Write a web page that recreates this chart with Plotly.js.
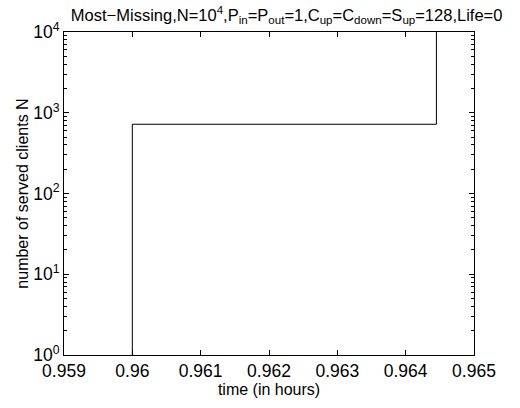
<!DOCTYPE html>
<html>
<head>
<meta charset="utf-8">
<script src="https://cdn.plot.ly/plotly-3.0.1.min.js"></script>
<style>html,body{margin:0;padding:0;background:#fff;}#chart{width:520px;height:408px;}</style>
</head>
<body>
<div id="chart"></div>
<script>
// Data
const timeHours = [0.96, 0.96, 0.96445, 0.96445];
const servedClients = [1, 720, 720, 10000];
const xTickVals = [0.959, 0.96, 0.961, 0.962, 0.963, 0.964, 0.965];
const xTickText = ['0.959', '0.96', '0.961', '0.962', '0.963', '0.964', '0.965'];
const yTickVals = [1, 10, 100, 1000, 10000];
const yTickText = ['10<sup>0</sup>', '10<sup>1</sup>', '10<sup>2</sup>', '10<sup>3</sup>', '10<sup>4</sup>'];
const titleText = 'Most\u2212Missing,N=10<sup>4</sup>,P<sub>in</sub>=P<sub>out</sub>=1,C<sub>up</sub>=C<sub>down</sub>=S<sub>up</sub>=128,Life=0';

const font = 'Liberation Sans, Arial, Helvetica, sans-serif';

const trace = {
  x: timeHours,
  y: servedClients,
  type: 'scatter',
  mode: 'lines',
  line: {color: '#000', width: 1},
  hoverinfo: 'skip',
  showlegend: false
};

const layout = {
  width: 520, height: 408,
  margin: {l: 64, r: 46, t: 32, b: 53, pad: 0},
  paper_bgcolor: '#fff', plot_bgcolor: '#fff',
  font: {family: font, size: 17, color: '#000'},
  title: {
    text: titleText,
    font: {family: font, size: 16.5, color: '#000'},
    x: 0.543, xanchor: 'center', xref: 'paper',
    y: 0.978, yanchor: 'top', yref: 'container'
  },
  xaxis: {
    range: [0.959, 0.965],
    tickmode: 'array', tickvals: xTickVals, ticktext: xTickText,
    ticks: 'inside', ticklen: 5, tickcolor: '#000', tickwidth: 1,
    showline: true, linecolor: '#000', linewidth: 1, mirror: 'ticks',
    showgrid: false, zeroline: false,
    tickfont: {family: font, size: 17.5, color: '#000'},
    title: {text: 'time (in hours)', font: {family: font, size: 16, color: '#000'}, standoff: 3}
  },
  yaxis: {
    type: 'log',
    range: [0, 4],
    tickmode: 'array', tickvals: yTickVals, ticktext: yTickText,
    ticks: 'inside', ticklen: 5, tickcolor: '#000', tickwidth: 1,
    minor: {ticks: 'inside', ticklen: 3, tickcolor: '#000', dtick: 'D1', showgrid: false},
    showline: true, linecolor: '#000', linewidth: 1, mirror: 'ticks',
    showgrid: false, zeroline: false,
    tickfont: {family: font, size: 17.5, color: '#000'},
    title: {text: 'number of served clients N', font: {family: font, size: 16, color: '#000'}, standoff: 0}
  }
};

Plotly.newPlot('chart', [trace], layout, {staticPlot: true, displayModeBar: false});
</script>
</body>
</html>
